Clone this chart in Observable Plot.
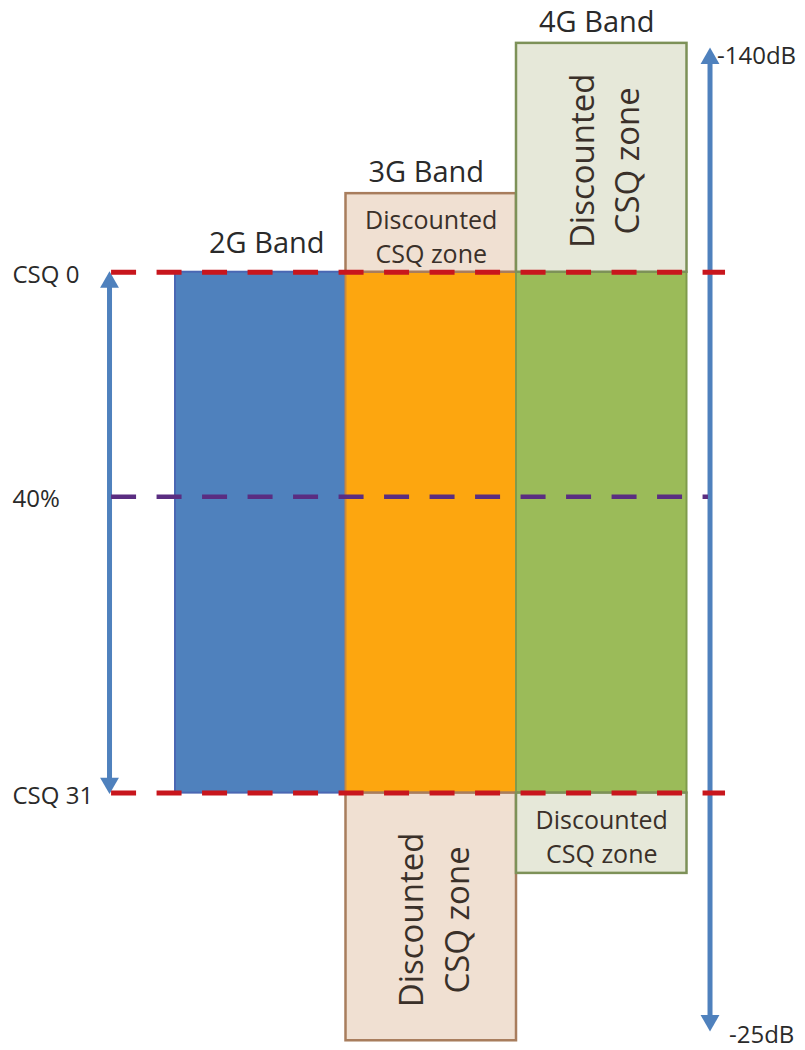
<!DOCTYPE html>
<html><head><meta charset="utf-8">
<script src="https://cdn.jsdelivr.net/npm/d3@7"></script>
<script src="https://cdn.jsdelivr.net/npm/@observablehq/plot@0.6"></script>
<style>
  html,body{margin:0;padding:0;background:#fff}
  #chart{width:805px;height:1050px;overflow:hidden}
  #chart svg{font-family:"Open Sans",sans-serif}
</style>
</head><body><div id="chart"></div>
<script>
// ---- data ----
const bands = ["2G", "3G", "4G"];
const bandLabels = ["2G Band", "3G Band", "4G Band"];
const bandStart = [0, 1, 2];
const bandEnd = [1, 2, 3];

const levelNames = ["CSQ 0", "40%", "CSQ 31"];
const levelDb = [-113.8, -87.5, -52.8];

const zoneBand = ["3G", "4G", "3G", "4G"];
const zoneTopDb = [-123.0, -140.6, -52.8, -52.8];
const zoneBottomDb = [-113.8, -113.8, -23.8, -43.4];
const zoneVertical = [false, true, true, false];
const zoneText = "Discounted\nCSQ zone";

const dbNames = ["-140dB", "-25dB"];
const dbValues = [-140, -25];

// ---- styles ----
const bandFill = {"2G": "#4f81bd", "3G": "#fda60f", "4G": "#9bbb59"};
const bandStroke = {"2G": "#4a67b3", "3G": "#c98a3e", "4G": "#7f9b4c"};
const zoneFill = {"3G": "#f0e0d2", "4G": "#e6e8d9"};
const zoneStroke = {"3G": "#a87d5d", "4G": "#7d9158"};
const arrowBlue = "#4f81bd";
const red = "#c8161d";
const purple = "#5a2d81";
const textColor = "#2a2a2a";

// annotation positions in band units
const leftArrowX = -0.387;
const rightArrowX = 3.135;
const ruleStart = -0.375;
const redRuleEnd = 3.226;
const purpleRuleEnd = 3.126;

// ---- tables ----
const bandTable = bands.map((b, i) => ({band: b, label: bandLabels[i], x1: bandStart[i], x2: bandEnd[i]}));
const bandIndex = Object.fromEntries(bands.map((b, i) => [b, i]));
const zoneTable = zoneBand.map((b, i) => ({
  band: b, x1: bandStart[bandIndex[b]], x2: bandEnd[bandIndex[b]],
  y1: zoneTopDb[i], y2: zoneBottomDb[i], vertical: zoneVertical[i]
}));
const levels = levelNames.map((n, i) => ({name: n, db: levelDb[i]}));
const csq0 = levelDb[0], csq31 = levelDb[2];
const topOf = b => Math.min(csq0, ...zoneTable.filter(z => z.band === b).map(z => z.y1));
bandTable.forEach(d => d.top = topOf(d.band));

const arrows = [
  {x: leftArrowX, y1: csq0, y2: csq31},
  {x: rightArrowX, y1: dbValues[0], y2: dbValues[1]}
];
const heads = arrows.flatMap(a => [{x: a.x, y: a.y1, dir: "up"}, {x: a.x, y: a.y2, dir: "down"}]);

const chart = Plot.plot({
  width: 805,
  height: 1050,
  margin: 0,
  x: {domain: [-175 / 170.5, (805 - 175) / 170.5], range: [0, 805], axis: null},
  y: {domain: [-145.62, -22.66], range: [0, 1050], axis: null},
  marks: [
    // main band boxes
    Plot.rect(bandTable, {x1: "x1", x2: "x2", y1: csq0, y2: csq31,
      fill: d => bandFill[d.band], stroke: d => bandStroke[d.band], strokeWidth: 2}),
    // discounted zones
    Plot.rect(zoneTable, {x1: "x1", x2: "x2", y1: "y1", y2: "y2",
      fill: d => zoneFill[d.band], stroke: d => zoneStroke[d.band], strokeWidth: 2.5}),
    // zone texts
    Plot.text(zoneTable.filter(d => !d.vertical), {
      x: d => (d.x1 + d.x2) / 2, y: d => (d.y1 + d.y2) / 2, text: () => zoneText,
      fontSize: 25, lineHeight: 1.36, fill: "#3a3029", dy: 2}),
    Plot.text(zoneTable.filter(d => d.vertical), {
      x: d => (d.x1 + d.x2) / 2, y: d => (d.y1 + d.y2) / 2, text: () => zoneText,
      fontSize: 33, lineHeight: 1.38, rotate: -90, fill: "#3a3029", dy: 3}),
    // band labels
    Plot.text(bandTable.filter(d => d.band === "2G"), {
      x: d => (d.x1 + d.x2) / 2, y: "top", text: "label", fontSize: 29, fill: textColor, dy: -29, dx: 6}),
    Plot.text(bandTable.filter(d => d.band !== "2G"), {
      x: d => (d.x1 + d.x2) / 2, y: "top", text: "label", fontSize: 29, fill: textColor, dy: -21, dx: -5}),
    // arrows: shafts
    Plot.arrow(arrows, {x1: "x", x2: "x", y1: "y1", y2: "y2", headLength: 0,
      insetStart: 12, insetEnd: 12, stroke: arrowBlue, strokeWidth: 5, strokeLinecap: "butt"}),
    // arrow heads
    Plot.dot(heads.filter(d => d.dir === "up"), {x: "x", y: "y", symbol: "triangle", r: 7,
      fill: arrowBlue, stroke: "none", dy: 10}),
    Plot.dot(heads.filter(d => d.dir === "down"), {x: "x", y: "y", symbol: "triangle", r: 7,
      fill: arrowBlue, stroke: "none", rotate: 180, dy: -10}),
    // dashed level lines
    Plot.ruleY(levels.filter(d => d.name !== "40%"), {y: "db", x1: ruleStart, x2: redRuleEnd,
      stroke: red, strokeWidth: 5, strokeDasharray: "25,20.5"}),
    Plot.ruleY(levels.filter(d => d.name === "40%"), {y: "db", x1: ruleStart, x2: purpleRuleEnd,
      stroke: purple, strokeWidth: 4.5, strokeDasharray: "25,20.5"}),
    // level labels
    Plot.text(levels, {y: "db", text: "name", frameAnchor: "left", textAnchor: "start",
      dx: 12, dy: 3, fontSize: 24, fill: textColor}),
    // dB labels
    Plot.text([{name: dbNames[0], db: dbValues[0]}], {x: rightArrowX, y: "db", text: "name",
      textAnchor: "start", dx: 7, dy: 8, fontSize: 24, fill: textColor}),
    Plot.text([{name: dbNames[1], db: dbValues[1]}], {x: rightArrowX, y: "db", text: "name",
      textAnchor: "start", dx: 19, dy: 5, fontSize: 24, fill: textColor})
  ]
});
document.getElementById("chart").appendChild(chart);
</script></body></html>
